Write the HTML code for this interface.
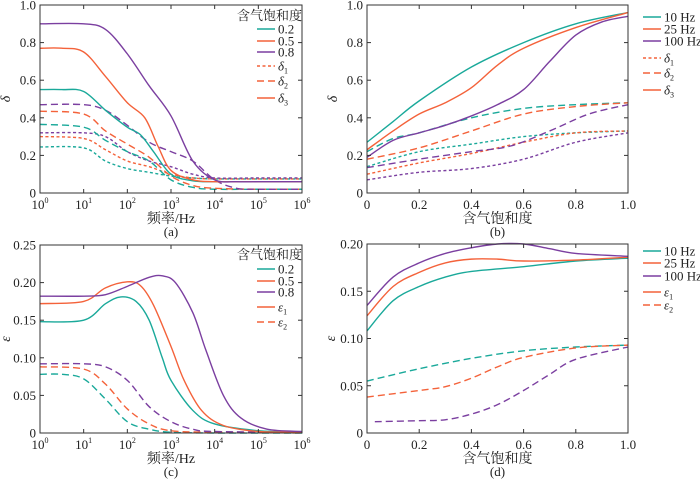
<!DOCTYPE html>
<html><head><meta charset="utf-8">
<style>
html,body{margin:0;padding:0;background:#fff;}
svg{display:block;font-family:"Liberation Serif","Noto Serif CJK SC",serif;}
</style></head>
<body>
<svg id="chart" width="700" height="479" viewBox="0 0 700 479" xmlns="http://www.w3.org/2000/svg"></svg>
<script>
const aD3_02=[[0,.55],[0.5,.55],[1,.54],[1.5,.44],[2,.35],[2.3,.31],[2.6,.22],[3,.10],[3.5,.065],[4,.06],[5,.06],[6,.06]];
const aD3_05=[[0,.77],[0.5,.77],[1,.75],[1.5,.62],[2,.48],[2.4,.40],[2.7,.25],[3,.12],[3.5,.07],[4,.06],[5,.06],[6,.06]];
const aD3_08=[[0,.9],[1,.9],[1.5,.87],[2,.74],[2.5,.57],[3,.41],[3.5,.17],[4,.07],[4.5,.06],[5,.06],[6,.06]];
const aD2_02=[[0,.365],[1,.35],[1.5,.28],[2,.22],[2.5,.17],[3,.07],[3.5,.03],[4,.02],[5,.02],[6,.02]];
const aD2_05=[[0,.435],[1,.42],[1.5,.33],[2,.26],[2.5,.19],[3,.09],[3.5,.04],[4,.025],[5,.02],[6,.02]];
const aD2_08=[[0,.47],[1,.47],[1.5,.44],[2,.36],[2.5,.27],[3,.22],[3.5,.17],[4,.07],[4.5,.025],[5,.02],[6,.02]];
const aD1_02=[[0,.245],[1,.24],[1.5,.17],[2,.13],[2.5,.11],[3,.09],[3.5,.08],[4,.075],[5,.075],[6,.075]];
const aD1_05=[[0,.30],[1,.29],[1.5,.23],[2,.17],[2.5,.14],[3,.10],[3.5,.08],[4,.075],[5,.075],[6,.075]];
const aD1_08=[[0,.32],[1,.32],[1.5,.30],[2,.22],[2.5,.17],[3,.14],[3.5,.10],[4,.08],[5,.08],[6,.08]];
const bD3_10=[[0,.27],[.1,.38],[.2,.49],[.4,.67],[.6,.80],[.8,.90],[1,.96]];
const bD3_25=[[0,.23],[.1,.33],[.2,.42],[.3,.48],[.4,.56],[.5,.68],[.6,.77],[.8,.88],[1,.96]];
const bD3_100=[[0,.19],[.1,.28],[.2,.32],[.3,.36],[.4,.41],[.5,.47],[.6,.55],[.7,.70],[.8,.84],[.9,.91],[1,.94]];
const bD2_10=[[0,.22],[.1,.29],[.2,.32],[.4,.40],[.6,.45],[.8,.47],[1,.48]];
const bD2_25=[[0,.18],[.2,.24],[.4,.33],[.6,.42],[.8,.46],[1,.48]];
const bD2_100=[[0,.135],[.2,.18],[.4,.22],[.55,.25],[.7,.33],[.85,.42],[1,.47]];
const bD1_10=[[0,.14],[.2,.22],[.4,.26],[.6,.30],[.8,.32],[1,.33]];
const bD1_25=[[0,.10],[.2,.16],[.4,.21],[.6,.27],[.8,.32],[1,.33]];
const bD1_100=[[0,.07],[.2,.11],[.4,.13],[.6,.18],[.8,.27],[1,.32]];
const cE1_02=[[0,.148],[1,.15],[1.5,.172],[1.85,.181],[2.2,.175],[2.5,.15],[2.8,.10],[3,.07],[3.5,.03],[4,.012],[5,.003],[6,.001]];
const cE1_05=[[0,.172],[1,.175],[1.5,.193],[2,.201],[2.3,.196],[2.6,.17],[3,.115],[3.3,.07],[3.7,.03],[4.2,.01],[5,.002],[6,.001]];
const cE1_08=[[0,.182],[1,.182],[1.5,.184],[2,.195],[2.5,.207],[2.8,.209],[3.1,.20],[3.5,.16],[3.8,.11],[4.2,.05],[4.6,.02],[5.2,.005],[6,.002]];
const cE2_02=[[0,.078],[0.5,.078],[1,.072],[1.5,.045],[2,.015],[2.5,.005],[3,.001],[4,0],[6,0]];
const cE2_05=[[0,.088],[1,.085],[1.5,.065],[2,.032],[2.5,.012],[3,.003],[4,.001],[6,0]];
const cE2_08=[[0,.092],[1,.092],[1.5,.088],[2,.07],[2.5,.035],[3,.015],[3.5,.005],[4,.002],[6,.001]];
const dE1_10=[[0,.108],[.1,.14],[.2,.155],[.3,.165],[.4,.171],[.6,.176],[.8,.182],[1,.185]];
const dE1_25=[[0,.124],[.1,.155],[.2,.17],[.3,.18],[.4,.184],[.5,.184],[.6,.182],[.8,.183],[1,.186]];
const dE1_100=[[0,.135],[.1,.165],[.2,.18],[.3,.19],[.4,.196],[.5,.2],[.6,.2],[.7,.195],[.8,.19],[1,.187]];
const dE2_10=[[0,.055],[.2,.068],[.4,.079],[.6,.087],[.8,.091],[1,.093]];
const dE2_25=[[0,.038],[.2,.045],[.3,.049],[.4,.058],[.5,.07],[.6,.08],[.8,.09],[1,.093]];
const dE2_100=[[.03,.012],[.2,.013],[.3,.014],[.4,.02],[.5,.03],[.6,.045],[.7,.062],[.8,.078],[1,.091]];

const logTicks=[0,1,2,3,4,5,6];
const satTicks=[0,0.2,0.4,0.6,0.8,1.0];
const satTickLabels=["0","0.2","0.4","0.6","0.8","1.0"];
const deltaTicks=[0,0.2,0.4,0.6,0.8,1.0];
const deltaTickLabels=["0","0.2","0.4","0.6","0.8","1.0"];
const epsTicks=[0,0.05,0.10,0.15,0.20,0.25];
const epsTickLabels=["0","0.05","0.10","0.15","0.20","0.25"];
const epsTicksD=[0,0.05,0.10,0.15,0.20];
const epsTickLabelsD=["0","0.05","0.10","0.15","0.20"];

const NS="http://www.w3.org/2000/svg";
const svg=document.getElementById('chart');
const TEAL="#1aa99a",ORANGE="#f4623a",PURPLE="#7b3fa0";
function mk(tag,attrs,parent){const e=document.createElementNS(NS,tag);for(const k in attrs)e.setAttribute(k,attrs[k]);(parent||svg).appendChild(e);return e;}
function pathFrom(pts,sx,sy){
  const P=pts.map(p=>[sx(p[0]),sy(p[1])]);
  let d="M"+P[0][0].toFixed(2)+","+P[0][1].toFixed(2);
  for(let i=0;i<P.length-1;i++){
    const p0=P[Math.max(0,i-1)],p1=P[i],p2=P[i+1],p3=P[Math.min(P.length-1,i+2)];
    const c1=[p1[0]+(p2[0]-p0[0])/6,p1[1]+(p2[1]-p0[1])/6];
    const c2=[p2[0]-(p3[0]-p1[0])/6,p2[1]-(p3[1]-p1[1])/6];
    d+=" C"+c1.map(v=>v.toFixed(2))+" "+c2.map(v=>v.toFixed(2))+" "+p2[0].toFixed(2)+","+p2[1].toFixed(2);
  }
  return d;
}
const DASH={solid:"",long:"7,4",short:"3,2.5"};
function panel(o){
  const g=mk('g',{});
  
  
  const sx=v=>o.x0+(v-o.xmin)/(o.xmax-o.xmin)*(o.x1-o.x0);
  const sy=v=>o.y1-(v-o.ymin)/(o.ymax-o.ymin)*(o.y1-o.y0);
  o.series.forEach(s=>{
    const p=mk('path',{d:pathFrom(s.pts,sx,sy),fill:'none',stroke:s.c,'stroke-width':1.4,'stroke-dasharray':DASH[s.dash]},g);
    
    
  });
  const fr=mk('rect',{x:o.x0,y:o.y0,width:o.x1-o.x0,height:o.y1-o.y0,fill:'none',stroke:'#333','stroke-width':1},g);
  
  
  o.xt.forEach((t,i)=>{
    const X=sx(t);
    mk('line',{x1:X,x2:X,y1:o.y1,y2:o.y1-4,stroke:'#333'},g);
    mk('line',{x1:X,x2:X,y1:o.y0,y2:o.y0+4,stroke:'#333'},g);
    const tx=mk('text',{x:X,y:o.y1+16,'text-anchor':'middle','font-size':13,fill:'#222'},g);
    
    
    if(o.log){tx.textContent="10";const s=mk('tspan',{dy:-6,'font-size':8},tx);s.textContent=String(t);}
    else tx.textContent=o.xtl[i];
  });
  o.yt.forEach((t,i)=>{
    const Y=sy(t);
    mk('line',{x1:o.x0,x2:o.x0+4,y1:Y,y2:Y,stroke:'#333'},g);
    mk('line',{x1:o.x1,x2:o.x1-4,y1:Y,y2:Y,stroke:'#333'},g);
    const tx=mk('text',{x:o.x0-4,y:Y+4.5,'text-anchor':'end','font-size':13,fill:'#222'},g);
    
    
    tx.textContent=o.ytl[i];
  });
  const xl=mk('text',{x:(o.x0+o.x1)/2,y:o.y1+30,'text-anchor':'middle','font-size':14,fill:'#222'},g);
  
  
  xl.textContent=o.xlabel;
  const cap=mk('text',{x:(o.x0+o.x1)/2,y:o.y1+43,'text-anchor':'middle','font-size':13,fill:'#222'},g);
  
  
  cap.textContent=o.cap;
  const yl=mk('text',{x:o.ylx,y:(o.y0+o.y1)/2,'text-anchor':'middle','font-size':14,'font-style':'italic',fill:'#222',transform:`rotate(-90 ${o.ylx} ${(o.y0+o.y1)/2})`},g);
  
  
  yl.textContent=o.ylabel;
  const lg=mk('g',{},g);
  
  
  if(o.legTitle){const t=mk('text',{x:o.legTitleX,y:o.legTitleY,'font-size':13,fill:'#222'},lg);t.textContent=o.legTitle;}
  o.leg.forEach(e=>{
    const eg=mk('g',{},lg);
    
    
    mk('line',{x1:o.legX,x2:o.legX+18,y1:e.y,y2:e.y,stroke:e.c,'stroke-width':1.6,'stroke-dasharray':DASH[e.dash]},eg);
    const t=mk('text',{x:o.legX+21,y:e.y+4.5,'font-size':13,fill:'#222','font-style':e.sym?'italic':'normal'},eg);
    t.textContent=e.t;
    if(e.sub){const s=mk('tspan',{dy:3,'font-size':8,'font-style':'normal'},t);s.textContent=e.sub;}
  });
}
const S=(pts,c,dash,n)=>({pts,c,dash,n});

panel({name:'panel-a',x0:40,x1:302,y0:5,y1:193,xmin:0,xmax:6,ymin:0,ymax:1,log:true,xt:logTicks,yt:deltaTicks,ytl:deltaTickLabels,
 xlabel:'频率/Hz',cap:'(a)',ylabel:'δ',ylx:10,
 series:[S(aD1_02,TEAL,'short','delta1-s02'),S(aD1_05,ORANGE,'short','delta1-s05'),S(aD1_08,PURPLE,'short','delta1-s08'),
 S(aD2_02,TEAL,'long','delta2-s02'),S(aD2_05,ORANGE,'long','delta2-s05'),S(aD2_08,PURPLE,'long','delta2-s08'),
 S(aD3_02,TEAL,'solid','delta3-s02'),S(aD3_05,ORANGE,'solid','delta3-s05'),S(aD3_08,PURPLE,'solid','delta3-s08')],
 legTitle:'含气饱和度',legTitleX:237,legTitleY:20,legX:257,
 leg:[{y:29,c:TEAL,dash:'solid',t:'0.2'},{y:41,c:ORANGE,dash:'solid',t:'0.5'},{y:52,c:PURPLE,dash:'solid',t:'0.8'},
 {y:66,c:ORANGE,dash:'short',t:'δ',sub:'1',sym:1},{y:81,c:ORANGE,dash:'long',t:'δ',sub:'2',sym:1},{y:98,c:ORANGE,dash:'solid',t:'δ',sub:'3',sym:1}]});

panel({name:'panel-b',x0:367,x1:628,y0:5,y1:193,xmin:0,xmax:1,ymin:0,ymax:1,log:false,xt:satTicks,xtl:satTickLabels,yt:deltaTicks,ytl:deltaTickLabels,
 xlabel:'含气饱和度',cap:'(b)',ylabel:'δ',ylx:337,
 series:[S(bD1_10,TEAL,'short','delta1-10hz'),S(bD1_25,ORANGE,'short','delta1-25hz'),S(bD1_100,PURPLE,'short','delta1-100hz'),
 S(bD2_10,TEAL,'long','delta2-10hz'),S(bD2_25,ORANGE,'long','delta2-25hz'),S(bD2_100,PURPLE,'long','delta2-100hz'),
 S(bD3_10,TEAL,'solid','delta3-10hz'),S(bD3_25,ORANGE,'solid','delta3-25hz'),S(bD3_100,PURPLE,'solid','delta3-100hz')],
 legX:643,
 leg:[{y:17,c:TEAL,dash:'solid',t:'10 Hz'},{y:29,c:ORANGE,dash:'solid',t:'25 Hz'},{y:41,c:PURPLE,dash:'solid',t:'100 Hz'},
 {y:58,c:ORANGE,dash:'short',t:'δ',sub:'1',sym:1},{y:73,c:ORANGE,dash:'long',t:'δ',sub:'2',sym:1},{y:90,c:ORANGE,dash:'solid',t:'δ',sub:'3',sym:1}]});

panel({name:'panel-c',x0:40,x1:302,y0:245,y1:433,xmin:0,xmax:6,ymin:0,ymax:0.25,log:true,xt:logTicks,yt:epsTicks,ytl:epsTickLabels,
 xlabel:'频率/Hz',cap:'(c)',ylabel:'ε',ylx:10,
 series:[S(cE2_02,TEAL,'long','eps2-s02'),S(cE2_05,ORANGE,'long','eps2-s05'),S(cE2_08,PURPLE,'long','eps2-s08'),
 S(cE1_02,TEAL,'solid','eps1-s02'),S(cE1_05,ORANGE,'solid','eps1-s05'),S(cE1_08,PURPLE,'solid','eps1-s08')],
 legTitle:'含气饱和度',legTitleX:237,legTitleY:259,legX:257,
 leg:[{y:269,c:TEAL,dash:'solid',t:'0.2'},{y:281,c:ORANGE,dash:'solid',t:'0.5'},{y:292,c:PURPLE,dash:'solid',t:'0.8'},
 {y:307,c:ORANGE,dash:'solid',t:'ε',sub:'1',sym:1},{y:322,c:ORANGE,dash:'long',t:'ε',sub:'2',sym:1}]});

panel({name:'panel-d',x0:367,x1:628,y0:244,y1:433,xmin:0,xmax:1,ymin:0,ymax:0.2,log:false,xt:satTicks,xtl:satTickLabels,yt:epsTicksD,ytl:epsTickLabelsD,
 xlabel:'含气饱和度',cap:'(d)',ylabel:'ε',ylx:335,
 series:[S(dE2_10,TEAL,'long','eps2-10hz'),S(dE2_25,ORANGE,'long','eps2-25hz'),S(dE2_100,PURPLE,'long','eps2-100hz'),
 S(dE1_10,TEAL,'solid','eps1-10hz'),S(dE1_25,ORANGE,'solid','eps1-25hz'),S(dE1_100,PURPLE,'solid','eps1-100hz')],
 legX:643,
 leg:[{y:251,c:TEAL,dash:'solid',t:'10 Hz'},{y:263,c:ORANGE,dash:'solid',t:'25 Hz'},{y:276,c:PURPLE,dash:'solid',t:'100 Hz'},
 {y:292,c:ORANGE,dash:'solid',t:'ε',sub:'1',sym:1},{y:305,c:ORANGE,dash:'long',t:'ε',sub:'2',sym:1}]});
</script>
</body></html>
